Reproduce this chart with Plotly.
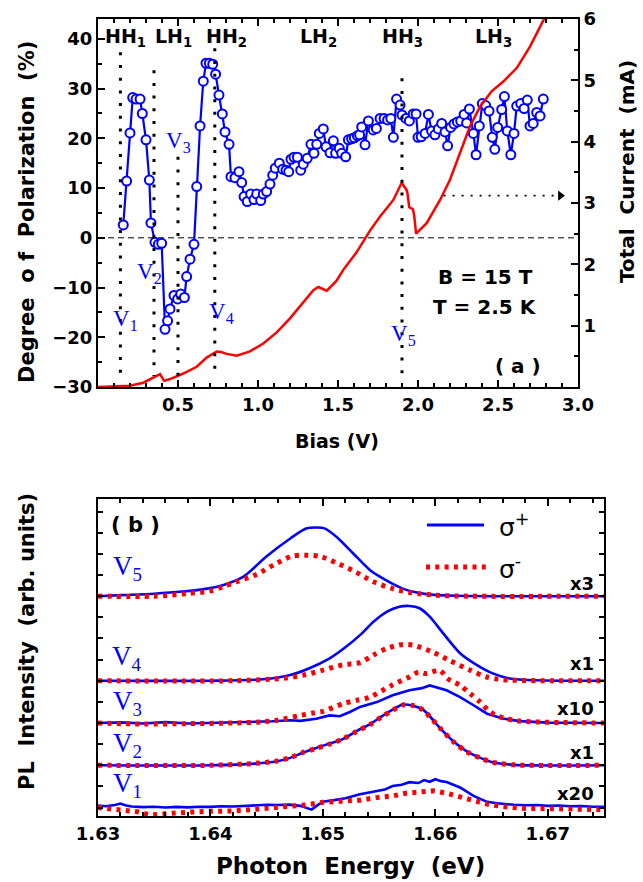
import plotly.graph_objects as go

W, H = 643, 882

# ---------------- Panel (a): polarization & current vs bias ----------------
bias_pol = [0.158, 0.179, 0.200, 0.217, 0.238, 0.263, 0.277, 0.300, 0.321, 0.331,
            0.356, 0.377, 0.398, 0.419, 0.435, 0.450, 0.475, 0.498, 0.517, 0.540,
            0.554, 0.575, 0.600, 0.617, 0.638, 0.658, 0.675, 0.696, 0.717, 0.735,
            0.756, 0.777, 0.794, 0.819, 0.831, 0.856, 0.881, 0.898, 0.913, 0.933,
            0.954, 0.975, 0.992, 1.017, 1.033, 1.054, 1.075, 1.092, 1.108, 1.133,
            1.154, 1.175, 1.192, 1.206, 1.225, 1.246, 1.267, 1.283, 1.308, 1.331,
            1.350, 1.367, 1.383, 1.408, 1.425, 1.450, 1.471, 1.485, 1.508, 1.523,
            1.548, 1.565, 1.585, 1.602, 1.621, 1.635, 1.648, 1.669, 1.690, 1.720,
            1.740, 1.763, 1.788, 1.810, 1.830, 1.846, 1.866, 1.888, 1.900, 1.925,
            1.946, 1.970, 1.988, 2.000, 2.020, 2.044, 2.065, 2.085, 2.106, 2.127,
            2.148, 2.169, 2.185, 2.204, 2.225, 2.246, 2.267, 2.288, 2.304, 2.321,
            2.346, 2.363, 2.383, 2.402, 2.423, 2.444, 2.464, 2.480, 2.498, 2.523,
            2.540, 2.558, 2.580, 2.600, 2.617, 2.642, 2.663, 2.683, 2.700, 2.720,
            2.742, 2.763, 2.783]
polarization = [2.6, 11.4, 21.1, 28.2, 27.9, 27.9, 25.0, 19.7, 11.6, 3.0,
                -0.9, -1.3, -1.1, -18.4, -16.7, -14.3, -11.6, -12.3, -11.3, -12.0,
                -7.8, -4.3, -1.3, 10.3, 22.5, 31.5, 35.1, 35.1, 34.9, 32.9,
                28.7, 24.9, 21.3, 18.8, 12.3, 12.1, 13.3, 11.1, 8.3, 7.3,
                8.8, 7.7, 8.8, 7.5, 8.8, 9.3, 10.8, 12.6, 14.0, 15.0,
                13.8, 13.6, 13.3, 15.8, 16.2, 16.2, 13.6, 14.8, 16.0, 18.8,
                17.0, 18.8, 21.0, 21.9, 18.3, 17.1, 19.5, 17.0, 18.0, 17.0,
                16.3, 19.7, 19.9, 20.1, 20.5, 20.7, 22.3, 18.7, 23.5, 21.7,
                22.0, 24.0, 24.0, 23.7, 24.0, 20.2, 27.9, 26.7, 24.7, 24.0,
                23.5, 24.9, 24.9, 20.2, 20.3, 21.0, 24.8, 21.5, 20.7, 21.9,
                23.0, 21.3, 18.5, 22.2, 22.9, 23.3, 23.5, 24.8, 23.1, 25.9,
                21.0, 16.7, 22.5, 27.0, 26.6, 25.5, 20.2, 17.8, 22.2, 25.8,
                28.4, 21.5, 16.7, 21.0, 26.5, 27.0, 26.0, 27.7, 22.5, 23.0,
                25.2, 24.5, 27.9]

bias_cur = [0.00, 0.10, 0.20, 0.283, 0.356, 0.388, 0.413, 0.450, 0.533, 0.617,
            0.679, 0.720, 0.742, 0.770, 0.804, 0.867, 0.950, 1.033, 1.117, 1.200,
            1.283, 1.346, 1.377, 1.400, 1.430, 1.490, 1.533, 1.617, 1.700, 1.763,
            1.846, 1.898, 1.929, 1.935, 1.945, 1.968, 1.976, 1.988, 2.054, 2.138,
            2.200, 2.325, 2.388, 2.460, 2.533, 2.617, 2.700, 2.780, 2.810]
current = [0.00, 0.005, 0.02, 0.07, 0.17, 0.21, 0.10, 0.13, 0.22, 0.33,
           0.48, 0.55, 0.58, 0.57, 0.54, 0.51, 0.58, 0.71, 0.89, 1.12,
           1.38, 1.58, 1.63, 1.60, 1.57, 1.73, 1.91, 2.20, 2.55, 2.78,
           3.05, 3.33, 3.21, 3.15, 2.93, 2.90, 2.80, 2.50, 2.67, 3.05,
           3.38, 4.25, 4.57, 4.82, 4.98, 5.20, 5.55, 5.96, 6.10]

# bias markers V1..V5 (dotted verticals)
v_bias = [0.14, 0.35, 0.50, 0.73, 1.90]
v_top = [37.3, 33.7, 16.3, 38.1, 32.1]
v_bottom = -27.8
v_label_bias = [0.17, 0.32, 0.50, 0.77, 1.91]
v_label_pol = [-16.5, -7.1, 19.3, -15.1, -19.5]
v_subs = ["1", "2", "3", "4", "5"]

state_names = ["HH", "LH", "HH", "LH", "HH", "LH"]
state_subs = ["1", "1", "2", "2", "3", "3"]
state_bias = [0.17, 0.47, 0.80, 1.38, 1.90, 2.47]

arrow_bias = [2.16, 2.89]
arrow_current = [3.12, 3.12]

# ---------------- Panel (b): PL spectra ----------------
E_v5_p = [1.630, 1.632, 1.635, 1.6375, 1.6397, 1.6411, 1.6429, 1.645, 1.6471, 1.6485,
          1.6494, 1.6502, 1.6512, 1.6527, 1.6542, 1.6551, 1.6571, 1.6592, 1.662, 1.675]
I_v5_p = [0.0, 0.05, 0.12, 0.22, 0.36, 0.52, 0.91, 1.89, 2.73, 3.2,
          3.25, 3.2, 2.81, 2.02, 1.23, 0.91, 0.36, 0.1, 0.02, 0.0]
E_v5_m = [1.630, 1.635, 1.638, 1.640, 1.6411, 1.6423, 1.6441, 1.6457, 1.6472, 1.6484,
          1.6497, 1.6512, 1.6529, 1.6545, 1.6562, 1.6579, 1.660, 1.663, 1.675]
I_v5_m = [0.0, 0.0, 0.13, 0.25, 0.44, 0.68, 1.03, 1.5, 1.89, 1.94,
          1.89, 1.58, 1.15, 0.68, 0.36, 0.16, 0.05, 0.0, 0.0]

E_v4_p = [1.630, 1.640, 1.6447, 1.6471, 1.6488, 1.6506, 1.6518, 1.6533, 1.6545, 1.6557,
          1.6568, 1.6577, 1.6586, 1.6595, 1.6607, 1.6622, 1.6637, 1.6651, 1.6666, 1.669, 1.675]
I_v4_p = [0.0, 0.0, 0.07, 0.27, 0.59, 1.06, 1.5, 2.16, 2.79, 3.27,
          3.5, 3.54, 3.43, 3.03, 2.24, 1.3, 0.74, 0.35, 0.11, 0.02, 0.0]
E_v4_m = [1.630, 1.642, 1.6465, 1.6483, 1.650, 1.6518, 1.6533, 1.6545, 1.6557, 1.6571,
          1.658, 1.6597, 1.6613, 1.6631, 1.6645, 1.666, 1.675]
I_v4_m = [0.0, 0.0, 0.12, 0.27, 0.5, 0.76, 0.86, 1.22, 1.53, 1.72,
          1.69, 1.37, 0.95, 0.5, 0.19, 0.05, 0.0]

E_v3_p = [1.630, 1.632, 1.634, 1.636, 1.638, 1.640, 1.642, 1.644, 1.6455, 1.6471,
          1.648, 1.6494, 1.650, 1.6506, 1.6515, 1.6524, 1.6533, 1.6548, 1.6562, 1.6577,
          1.6588, 1.6595, 1.661, 1.6622, 1.6634, 1.6646, 1.666, 1.6675, 1.670, 1.675]
I_v3_p = [0.0, 0.03, -0.02, 0.04, -0.02, 0.0, 0.03, 0.05, 0.08, 0.13,
          0.1, 0.2, 0.27, 0.36, 0.32, 0.52, 0.76, 0.99, 1.31, 1.55,
          1.65, 1.78, 1.55, 1.23, 0.84, 0.44, 0.21, 0.09, 0.02, 0.0]
E_v3_m = [1.630, 1.634, 1.638, 1.642, 1.6445, 1.6459, 1.648, 1.6491, 1.650, 1.6518,
          1.653, 1.6542, 1.6561, 1.6577, 1.6585, 1.6592, 1.6604, 1.6611, 1.6622, 1.6631,
          1.664, 1.6647, 1.6654, 1.6663, 1.6675, 1.675]
I_v3_m = [0.0, -0.05, -0.03, 0.0, 0.05, 0.13, 0.36, 0.47, 0.55, 0.92,
          1.07, 1.23, 1.78, 2.18, 2.41, 2.34, 2.49, 2.1, 1.78, 1.39,
          0.99, 0.6, 0.36, 0.21, 0.09, 0.0]

E_v2_p = [1.630, 1.640, 1.644, 1.6459, 1.6471, 1.6482, 1.6494, 1.6506, 1.6518, 1.653,
          1.6542, 1.6552, 1.6562, 1.6571, 1.658, 1.6589, 1.6595, 1.6604, 1.6616, 1.6628,
          1.664, 1.6651, 1.667, 1.675]
I_v2_p = [0.0, 0.0, 0.08, 0.19, 0.35, 0.59, 0.82, 1.03, 1.25, 1.62,
          1.95, 2.3, 2.63, 2.87, 2.82, 2.63, 2.32, 1.77, 1.14, 0.66,
          0.35, 0.14, 0.02, 0.0]
E_v2_m = [1.630, 1.640, 1.644, 1.6459, 1.6471, 1.6482, 1.6494, 1.6506, 1.6518, 1.653,
          1.6542, 1.6552, 1.6562, 1.6571, 1.658, 1.6589, 1.6595, 1.6604, 1.6616, 1.6628,
          1.664, 1.6651, 1.667, 1.675]
I_v2_m = [0.0, 0.0, 0.09, 0.2, 0.36, 0.6, 0.8, 1.0, 1.25, 1.6,
          1.93, 2.28, 2.6, 2.85, 2.83, 2.62, 2.3, 1.77, 1.12, 0.64,
          0.34, 0.14, 0.02, 0.0]

E_v1_p = [1.630, 1.6307, 1.6315, 1.632, 1.6325, 1.633, 1.634, 1.635, 1.636, 1.637,
          1.638, 1.639, 1.640, 1.641, 1.642, 1.643, 1.644, 1.645, 1.646, 1.647,
          1.648, 1.6485, 1.649, 1.6495, 1.650, 1.651, 1.652, 1.6533, 1.6548, 1.6555,
          1.6562, 1.657, 1.6577, 1.6585, 1.659, 1.6595, 1.660, 1.6605, 1.661, 1.6622,
          1.6634, 1.6646, 1.6655, 1.6663, 1.667, 1.6681, 1.669, 1.670, 1.671, 1.672,
          1.673, 1.674, 1.675]
I_v1_p = [0.1, 0.06, 0.12, 0.19, 0.1, 0.05, 0.02, 0.04, 0.0, 0.03,
          0.01, 0.04, 0.03, 0.06, 0.05, 0.08, 0.1, 0.13, 0.12, 0.14,
          0.08, 0.0, -0.1, 0.1, 0.28, 0.35, 0.44, 0.63, 0.79, 0.85,
          1.02, 1.08, 1.2, 1.16, 1.3, 1.22, 1.34, 1.25, 1.21, 0.95,
          0.55, 0.27, 0.2, 0.16, 0.13, 0.11, 0.12, 0.08, 0.1, 0.06,
          0.07, 0.04, 0.04]
E_v1_m = [1.630, 1.632, 1.6335, 1.6346, 1.636, 1.638, 1.640, 1.642, 1.644, 1.646,
          1.648, 1.6486, 1.650, 1.6515, 1.6533, 1.6548, 1.6562, 1.6574, 1.6586, 1.6598,
          1.661, 1.6622, 1.6634, 1.6646, 1.666, 1.668, 1.670, 1.672, 1.6744, 1.675]
I_v1_m = [0.0, -0.1, -0.2, -0.35, -0.28, -0.22, -0.18, -0.16, -0.08, 0.0,
          0.1, 0.13, 0.25, 0.31, 0.35, 0.47, 0.55, 0.68, 0.71, 0.79,
          0.68, 0.52, 0.32, 0.16, 0.05, -0.05, -0.05, -0.05, -0.08, -0.1]

spectra_offsets = [0, 2, 4, 6, 10]          # V1..V5 vertical offsets
spectra_scale_labels = ["x20", "x1", "x10", "x1", "x3"]

# ---------------- Figure ----------------
BLUE = "#0000ff"
RED = "#ff0000"
BOLD = dict(family="DejaVu Sans", size=18, color="black", weight="bold")
RED_DOTS = "4px,5.3px"

def px(xp):
    return xp / W

def py(yp):
    return 1 - yp / H

fig = go.Figure()

fig.add_trace(go.Scatter(
    x=bias_pol, y=polarization, xaxis="x", yaxis="y", mode="lines+markers",
    line=dict(color=BLUE, width=2.2),
    marker=dict(symbol="circle", size=9, color="white", line=dict(color=BLUE, width=2)),
    cliponaxis=False))

fig.add_trace(go.Scatter(
    x=bias_cur, y=current, xaxis="x", yaxis="y2", mode="lines",
    line=dict(color=RED, width=2.5)))

fig.add_trace(go.Scatter(
    x=arrow_bias, y=arrow_current, xaxis="x", yaxis="y2", mode="lines",
    line=dict(color="black", width=1.8, dash="2px,7px")))
fig.add_trace(go.Scatter(
    x=[arrow_bias[1]], y=[arrow_current[1]], xaxis="x", yaxis="y2", mode="markers",
    marker=dict(symbol="triangle-right", size=9, color="black")))

pairs = [(E_v1_p, I_v1_p, E_v1_m, I_v1_m),
         (E_v2_p, I_v2_p, E_v2_m, I_v2_m),
         (E_v3_p, I_v3_p, E_v3_m, I_v3_m),
         (E_v4_p, I_v4_p, E_v4_m, I_v4_m),
         (E_v5_p, I_v5_p, E_v5_m, I_v5_m)]
for k, (ep, ip, em, im) in enumerate(pairs):
    off = spectra_offsets[k]
    noisy = k in (0, 2)
    fig.add_trace(go.Scatter(
        x=ep, y=[v + off for v in ip], xaxis="x2", yaxis="y3", mode="lines",
        line=dict(color=BLUE, width=2.6, shape="linear" if noisy else "spline",
                  smoothing=0.8)))
    fig.add_trace(go.Scatter(
        x=em, y=[v + off for v in im], xaxis="x2", yaxis="y3", mode="lines",
        line=dict(color=RED, width=5, dash=RED_DOTS,
                  shape="linear" if k == 0 else "spline", smoothing=0.8)))

shapes = []
shapes.append(dict(type="line", xref="x", yref="y", x0=0, x1=3.0, y0=0, y1=0,
                   line=dict(color="black", width=1, dash="6px,4px"), layer="below"))
for xb, yt in zip(v_bias, v_top):
    shapes.append(dict(type="line", xref="x", yref="y", x0=xb, x1=xb, y0=yt, y1=v_bottom,
                       line=dict(color="black", width=3, dash="3px,9.7px")))
shapes.append(dict(type="line", xref="paper", yref="paper", x0=px(427), x1=px(484),
                   y0=py(525), y1=py(525), line=dict(color=BLUE, width=3)))
shapes.append(dict(type="line", xref="paper", yref="paper", x0=px(426), x1=px(486),
                   y0=py(567), y1=py(567), line=dict(color=RED, width=5, dash=RED_DOTS)))

ann = []

def label(xp, yp, text, font, angle=0, xanchor="center"):
    ann.append(dict(x=px(xp), y=py(yp), xref="paper", yref="paper", showarrow=False,
                    text=text, font=font, textangle=angle,
                    xanchor=xanchor, yanchor="middle"))

for nm, sb, xb in zip(state_names, state_subs, state_bias):
    ann.append(dict(x=xb, y=py(38), xref="x", yref="paper", showarrow=False,
                    text=f"{nm}<sub>{sb}</sub>", font=dict(BOLD, size=19),
                    xanchor="center", yanchor="middle"))
for xb, yv, sb in zip(v_label_bias, v_label_pol, v_subs):
    ann.append(dict(x=xb, y=yv, xref="x", yref="y", showarrow=False,
                    text=f"V<sub>{sb}</sub>",
                    font=dict(family="Liberation Serif", size=23, color=BLUE),
                    xanchor="center", yanchor="middle"))

label(485, 277, "B = 15 T", dict(BOLD, size=20))
label(485, 307, "T = 2.5 K", dict(BOLD, size=20))
label(518, 366, "( a )", dict(BOLD, size=20))
label(337, 441, "Bias (V)", dict(BOLD, size=19))
label(27, 212, "Degree  o f  Polarization  (%)", dict(BOLD, size=21), angle=-90)
label(627, 172, "Total  Current  (mA)", dict(BOLD, size=20), angle=-90)

label(135, 525, "( b )", dict(BOLD, size=21))
label(350, 866, "Photon  Energy  (eV)", dict(BOLD, size=23))
label(27, 642, "PL  Intensity  (arb. units)", dict(BOLD, size=21), angle=-90)
label(497, 525, "σ<sup>+</sup>", dict(family="DejaVu Sans", size=25, color="black"),
      xanchor="left")
label(497, 567, "σ<sup>-</sup>", dict(family="DejaVu Sans", size=25, color="black"),
      xanchor="left")
spec_label_y = [785, 745, 703, 658, 568]
spec_scale_y = [793, 752, 708, 663, 583]
for k in range(5):
    label(127, spec_label_y[k], f"V<sub>{v_subs[k]}</sub>",
          dict(family="Liberation Serif", size=27, color=BLUE))
    label(596, spec_scale_y[k], spectra_scale_labels[k], dict(BOLD, size=18),
          xanchor="right")

axis_common = dict(showline=True, linecolor="black", linewidth=2, ticks="inside",
                   tickcolor="black", tickwidth=1.5, showgrid=False, zeroline=False,
                   tickfont=BOLD, automargin=False)

fig.update_layout(
    template="none",
    width=W, height=H, margin=dict(l=0, r=0, t=0, b=0, autoexpand=False),
    paper_bgcolor="white", plot_bgcolor="white", showlegend=False,
    xaxis=dict(axis_common, domain=[px(98), px(578)], range=[0, 3.0], anchor="y",
               tickvals=[0.5, 1.0, 1.5, 2.0, 2.5, 3.0], tickformat=".1f", ticklen=7,
               mirror="ticks",
               minor=dict(ticks="inside", dtick=0.1, tick0=0, ticklen=4, tickcolor="black")),
    yaxis=dict(axis_common, domain=[py(387), py(19)], range=[-30, 44], anchor="x",
               dtick=10, tick0=0, ticklen=7,
               minor=dict(ticks="inside", dtick=5, tick0=0, ticklen=4, tickcolor="black")),
    yaxis2=dict(axis_common, overlaying="y", side="right", anchor="x", range=[0, 6],
                tickvals=[1, 2, 3, 4, 5, 6], ticklen=7,
                minor=dict(ticks="inside", dtick=0.5, tick0=0, ticklen=4, tickcolor="black")),
    xaxis2=dict(axis_common, domain=[px(98), px(604)], range=[1.63, 1.675], anchor="y3",
                tickvals=[1.63, 1.64, 1.65, 1.66, 1.67], tickformat=".2f", ticklen=7,
                mirror="ticks",
                minor=dict(ticks="inside", dtick=0.002, tick0=1.63, ticklen=4, tickcolor="black")),
    yaxis3=dict(axis_common, domain=[py(816), py(499)], range=[-0.4, 14.6], anchor="x2",
                dtick=1, tick0=0, ticklen=5, showticklabels=False, mirror="ticks"),
    shapes=shapes, annotations=ann,
)

fig.write_html("out.html", config={"displayModeBar": False},
               post_script="document.body.style.margin='0';")
